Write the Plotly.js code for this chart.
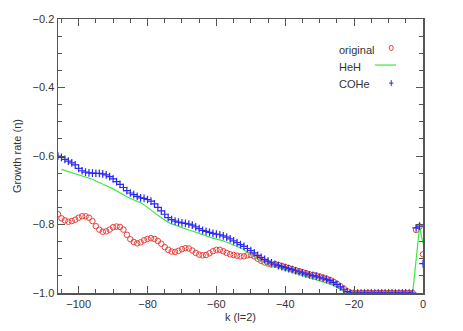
<!DOCTYPE html>
<html>
<head>
<meta charset="utf-8">
<script src="https://cdn.plot.ly/plotly-3.0.1.min.js"></script>
<style>html,body{margin:0;padding:0;background:#fff;}#chart{width:463px;height:331px;}</style>
</head>
<body>
<div id="chart"></div>
<script>
// k values (l=2)
const kOriginal = [];
for (let k = -106; k <= 0; k++) kOriginal.push(k);
const kHeH = [];
for (let k = -105; k <= 0; k++) kHeH.push(k);

const original = [
-0.770,-0.782,-0.788,-0.792,-0.790,-0.786,-0.780,-0.776,-0.776,-0.780,
-0.790,-0.805,-0.815,-0.821,-0.820,-0.815,-0.808,-0.806,-0.807,-0.815,
-0.830,-0.843,-0.851,-0.855,-0.852,-0.846,-0.842,-0.840,-0.842,-0.848,
-0.856,-0.866,-0.874,-0.879,-0.880,-0.877,-0.872,-0.869,-0.870,-0.876,
-0.883,-0.888,-0.890,-0.889,-0.884,-0.878,-0.874,-0.874,-0.878,-0.883,
-0.887,-0.889,-0.891,-0.893,-0.893,-0.890,-0.889,-0.893,-0.900,-0.906,
-0.911,-0.914,-0.917,-0.915,-0.918,-0.921,-0.924,-0.927,-0.930,-0.933,
-0.936,-0.939,-0.942,-0.945,-0.947,-0.949,-0.952,-0.955,-0.958,-0.962,
-0.967,-0.973,-0.980,-0.987,-0.995,-1.000,-1.000,-1.000,-1.000,-1.000,
-1.000,-1.000,-1.000,-1.000,-1.000,-1.000,-1.000,-1.000,-1.000,-1.000,
-1.000,-1.000,-1.000,-1.000,-0.816,-0.806,-0.887
];

const heh = [
-0.639,-0.642,-0.645,-0.648,-0.651,-0.654,-0.657,-0.660,-0.664,-0.668,
-0.673,-0.677,-0.681,-0.686,-0.691,-0.696,-0.701,-0.707,-0.713,-0.719,
-0.724,-0.729,-0.733,-0.736,-0.742,-0.750,-0.758,-0.766,-0.773,-0.780,
-0.787,-0.794,-0.798,-0.802,-0.806,-0.810,-0.813,-0.816,-0.819,-0.823,
-0.827,-0.831,-0.834,-0.837,-0.840,-0.842,-0.845,-0.848,-0.852,-0.856,
-0.860,-0.864,-0.867,-0.873,-0.882,-0.889,-0.896,-0.903,-0.908,-0.912,
-0.917,-0.921,-0.924,-0.927,-0.930,-0.933,-0.936,-0.939,-0.942,-0.946,
-0.950,-0.953,-0.956,-0.959,-0.962,-0.965,-0.968,-0.971,-0.974,-0.978,
-0.983,-0.988,-0.993,-0.999,-1.000,-1.000,-1.000,-1.000,-1.000,-1.000,
-1.000,-1.000,-1.000,-1.000,-1.000,-1.000,-1.000,-1.000,-1.000,-1.000,
-1.000,-1.000,-1.000,-0.903,-0.806,-0.855
];

const cohe = [
-0.600,-0.604,-0.610,-0.615,-0.620,-0.626,-0.636,-0.643,-0.647,-0.649,
-0.650,-0.651,-0.651,-0.652,-0.655,-0.660,-0.667,-0.675,-0.683,-0.692,
-0.701,-0.708,-0.713,-0.718,-0.722,-0.724,-0.727,-0.732,-0.740,-0.750,
-0.760,-0.770,-0.780,-0.786,-0.790,-0.793,-0.795,-0.797,-0.799,-0.802,
-0.807,-0.812,-0.817,-0.820,-0.823,-0.826,-0.828,-0.830,-0.833,-0.837,
-0.842,-0.848,-0.853,-0.859,-0.864,-0.870,-0.876,-0.883,-0.890,-0.896,
-0.902,-0.907,-0.912,-0.916,-0.920,-0.923,-0.926,-0.929,-0.932,-0.935,
-0.938,-0.941,-0.944,-0.947,-0.949,-0.951,-0.954,-0.957,-0.960,-0.964,
-0.969,-0.975,-0.982,-0.989,-0.996,-1.000,-1.000,-1.000,-1.000,-1.000,
-1.000,-1.000,-1.000,-1.000,-1.000,-1.000,-1.000,-1.000,-1.000,-1.000,
-1.000,-1.000,-1.000,-1.000,-0.810,-0.805,-0.914
];

const legendLabels = ["original", "HeH", "COHe"];
const colRed = "#e8403c", colGreen = "#3ee83e", colBlue = "#2a2af0";

const traces = [
  {x: kOriginal, y: original, mode: "markers", type: "scatter", name: legendLabels[0],
   marker: {symbol: "circle-open", size: 5.5, color: colRed, line: {width: 1, color: colRed}}},
  {x: kHeH, y: heh, mode: "lines", type: "scatter", name: legendLabels[1],
   line: {color: colGreen, width: 1.2}},
  {x: kOriginal, y: cohe, mode: "markers", type: "scatter", name: legendLabels[2],
   marker: {symbol: "cross-thin-open", size: 5.5, color: colBlue, line: {width: 1.2, color: colBlue}}}
];

const axisFont = {family: "Liberation Sans, Arial, sans-serif", size: 11, color: "#333"};
const axCommon = {
  showgrid: false, zeroline: false, showline: true, linecolor: "#555", linewidth: 1.5,
  mirror: "allticks", ticks: "inside", ticklen: 7, tickwidth: 1, tickcolor: "#555",
  tickfont: axisFont
};

const layout = {
  width: 463, height: 331,
  margin: {l: 58, r: 40, t: 19, b: 38},
  paper_bgcolor: "#fff", plot_bgcolor: "#fff",
  showlegend: false,
  xaxis: Object.assign({}, axCommon, {
    range: [-106, 0], tickvals: [-100, -80, -60, -40, -20, 0],
    minor: {dtick: 5, ticks: "inside", ticklen: 4, tickcolor: "#555", tickwidth: 1},
    title: {text: "k (l=2)", font: axisFont, standoff: 4}
  }),
  yaxis: Object.assign({}, axCommon, {
    range: [-1.0, -0.2], tickvals: [-1.0, -0.8, -0.6, -0.4, -0.2], tickformat: ".1f",
    minor: {dtick: 0.05, ticks: "inside", ticklen: 4, tickcolor: "#555", tickwidth: 1},
    title: {text: "Growth rate (η)", font: axisFont, standoff: 8}
  }),
  annotations: [
    {xref: "paper", yref: "paper", x: 0.765, y: 0.888, xanchor: "left", yanchor: "middle",
     text: legendLabels[0], showarrow: false, font: axisFont},
    {xref: "paper", yref: "paper", x: 0.765, y: 0.826, xanchor: "left", yanchor: "middle",
     text: legendLabels[1], showarrow: false, font: axisFont},
    {xref: "paper", yref: "paper", x: 0.765, y: 0.762, xanchor: "left", yanchor: "middle",
     text: legendLabels[2], showarrow: false, font: axisFont}
  ],
  shapes: [
    {type: "circle", xref: "paper", yref: "paper", x0: 0.9075, x1: 0.9185, y0: 0.885, y1: 0.904,
     line: {color: colRed, width: 1}},
    {type: "line", xref: "paper", yref: "paper", x0: 0.868, x1: 0.926, y0: 0.832, y1: 0.832,
     line: {color: colGreen, width: 1.2}},
    {type: "line", xref: "paper", yref: "paper", x0: 0.907, x1: 0.919, y0: 0.766, y1: 0.766,
     line: {color: colBlue, width: 1}},
    {type: "line", xref: "paper", yref: "paper", x0: 0.913, x1: 0.913, y0: 0.755, y1: 0.777,
     line: {color: colBlue, width: 1}}
  ]
};

Plotly.newPlot("chart", traces, layout, {displayModeBar: false, staticPlot: true});
</script>
</body>
</html>
